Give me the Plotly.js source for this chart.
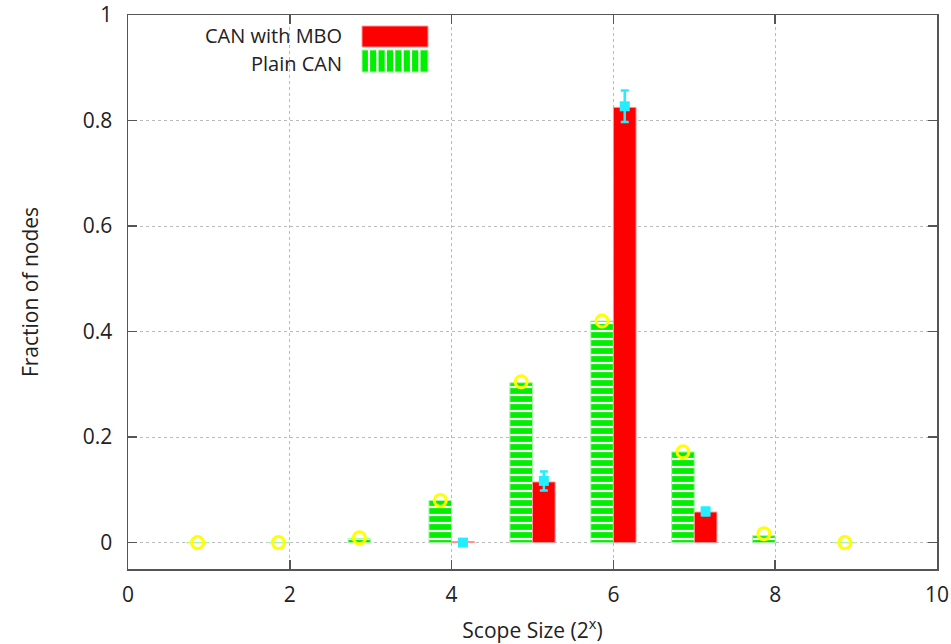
<!DOCTYPE html>
<html>
<head>
<meta charset="utf-8">
<script src="https://cdn.plot.ly/plotly-3.0.1.min.js"></script>
<style>html,body{margin:0;padding:0;background:#fff;}#chart{width:951px;height:644px;}</style>
</head>
<body>
<div id="chart"></div>
<script>
// Data
const scopeSizes = [1, 2, 3, 4, 5, 6, 7, 8, 9];
const plainCan = [0, 0, 0.008, 0.08, 0.303, 0.42, 0.172, 0.013, 0];
const plainCanPoints = [0, 0, 0.009, 0.08, 0.305, 0.42, 0.172, 0.017, 0];
const canMbo = [null, null, null, 0.002, 0.115, 0.825, 0.058, null, null];
const canMboPoints = [null, null, null, 0, 0.117, 0.827, 0.059, null, null];
const canMboErr = [0, 0, 0, 0, 0.018, 0.03, 0.007, 0, 0];
const seriesNames = ['CAN with MBO', 'Plain CAN'];

const FONT = 'Open Sans, Noto Sans, sans-serif';
const FS = 21;
const OFF = 0.14;

const traces = [
  {
    type: 'bar', x: scopeSizes, y: plainCan, name: seriesNames[1], showlegend: false,
    marker: {color: '#00ee00', line: {color: '#aaf5aa', width: 1},
      pattern: {shape: '-', fgcolor: '#ffffff', bgcolor: '#00ee00', size: 8, solidity: 0.28}}
  },
  {
    type: 'bar', x: scopeSizes, y: canMbo, name: seriesNames[0], showlegend: false,
    marker: {color: '#ff0000', line: {color: '#ff9a9a', width: 1}}
  },
  {
    type: 'scatter', mode: 'markers', x: scopeSizes.map(v => v - OFF), y: plainCanPoints,
    showlegend: false, hoverinfo: 'y',
    marker: {symbol: 'circle-open', size: 12, color: '#ffff00', line: {width: 3, color: '#ffee00'}}
  },
  {
    type: 'scatter', mode: 'markers', x: scopeSizes.map(v => v + OFF), y: canMboPoints,
    showlegend: false, hoverinfo: 'y',
    marker: {symbol: 'square', size: 10, color: '#22eeff'},
    error_y: {type: 'data', array: canMboErr, visible: true, color: '#22eeff', thickness: 2.5, width: 4}
  }
];

// plot-area pixel helpers for the gnuplot-style legend
const L = 128, T = 15, W = 809, H = 554;
function px(v){ return (v - L) / W; }
function py(v){ return 1 - (v - T) / H; }
const kx0 = 362, kx1 = 428;

const annotations = [
  {xref: 'paper', yref: 'paper', x: px(344), y: py(36), xanchor: 'right', yanchor: 'middle',
   text: seriesNames[0], showarrow: false, font: {family: FONT, size: 20, color: '#222'}},
  {xref: 'paper', yref: 'paper', x: px(344), y: py(63), xanchor: 'right', yanchor: 'middle',
   text: seriesNames[1], showarrow: false, font: {family: FONT, size: 20, color: '#222'}}
];

const shapes = [
  {type: 'rect', xref: 'paper', yref: 'paper', x0: px(kx0), x1: px(kx1), y0: py(47), y1: py(26),
   fillcolor: '#ff0000', line: {color: '#ff9a9a', width: 1}},
  {type: 'rect', xref: 'paper', yref: 'paper', x0: px(kx0), x1: px(kx1), y0: py(72), y1: py(50),
   fillcolor: '#00ee00', line: {color: '#aaf5aa', width: 1}}
];
for (let xs = kx0 + 7; xs < kx1 - 2; xs += 8.4) {
  shapes.push({type: 'line', xref: 'paper', yref: 'paper', x0: px(xs), x1: px(xs), y0: py(72), y1: py(50),
    line: {color: '#ffffff', width: 2.2}});
}

const axisCommon = {
  showline: true, linecolor: '#555', linewidth: 1.5, mirror: 'ticks',
  ticks: 'inside', ticklen: 9, tickcolor: '#555', tickwidth: 1.5,
  showgrid: true, gridcolor: '#bbb', griddash: 'dot', gridwidth: 1,
  zeroline: false,
  tickfont: {family: FONT, size: FS, color: '#222'}
};

const layout = {
  width: 951, height: 644,
  margin: {l: L, r: 951 - L - W, t: T, b: 644 - T - H},
  paper_bgcolor: '#fff', plot_bgcolor: '#fff',
  barmode: 'group', bargap: 0.44, bargroupgap: 0,
  showlegend: false,
  font: {family: FONT, size: FS, color: '#222'},
  xaxis: Object.assign({}, axisCommon, {
    range: [0, 10], dtick: 2, tick0: 0, ticklabelstandoff: 6,
    title: {text: 'Scope Size (2<sup>x</sup>)', font: {family: FONT, size: FS, color: '#222'}, standoff: 20}
  }),
  yaxis: Object.assign({}, axisCommon, {
    range: [-0.05, 1], dtick: 0.2, tick0: 0, ticklabelstandoff: 10,
    title: {text: 'Fraction of nodes', font: {family: FONT, size: FS, color: '#222'}, standoff: 38}
  }),
  shapes: shapes,
  annotations: annotations
};

Plotly.newPlot('chart', traces, layout, {displayModeBar: false, staticPlot: true});
</script>
</body>
</html>
